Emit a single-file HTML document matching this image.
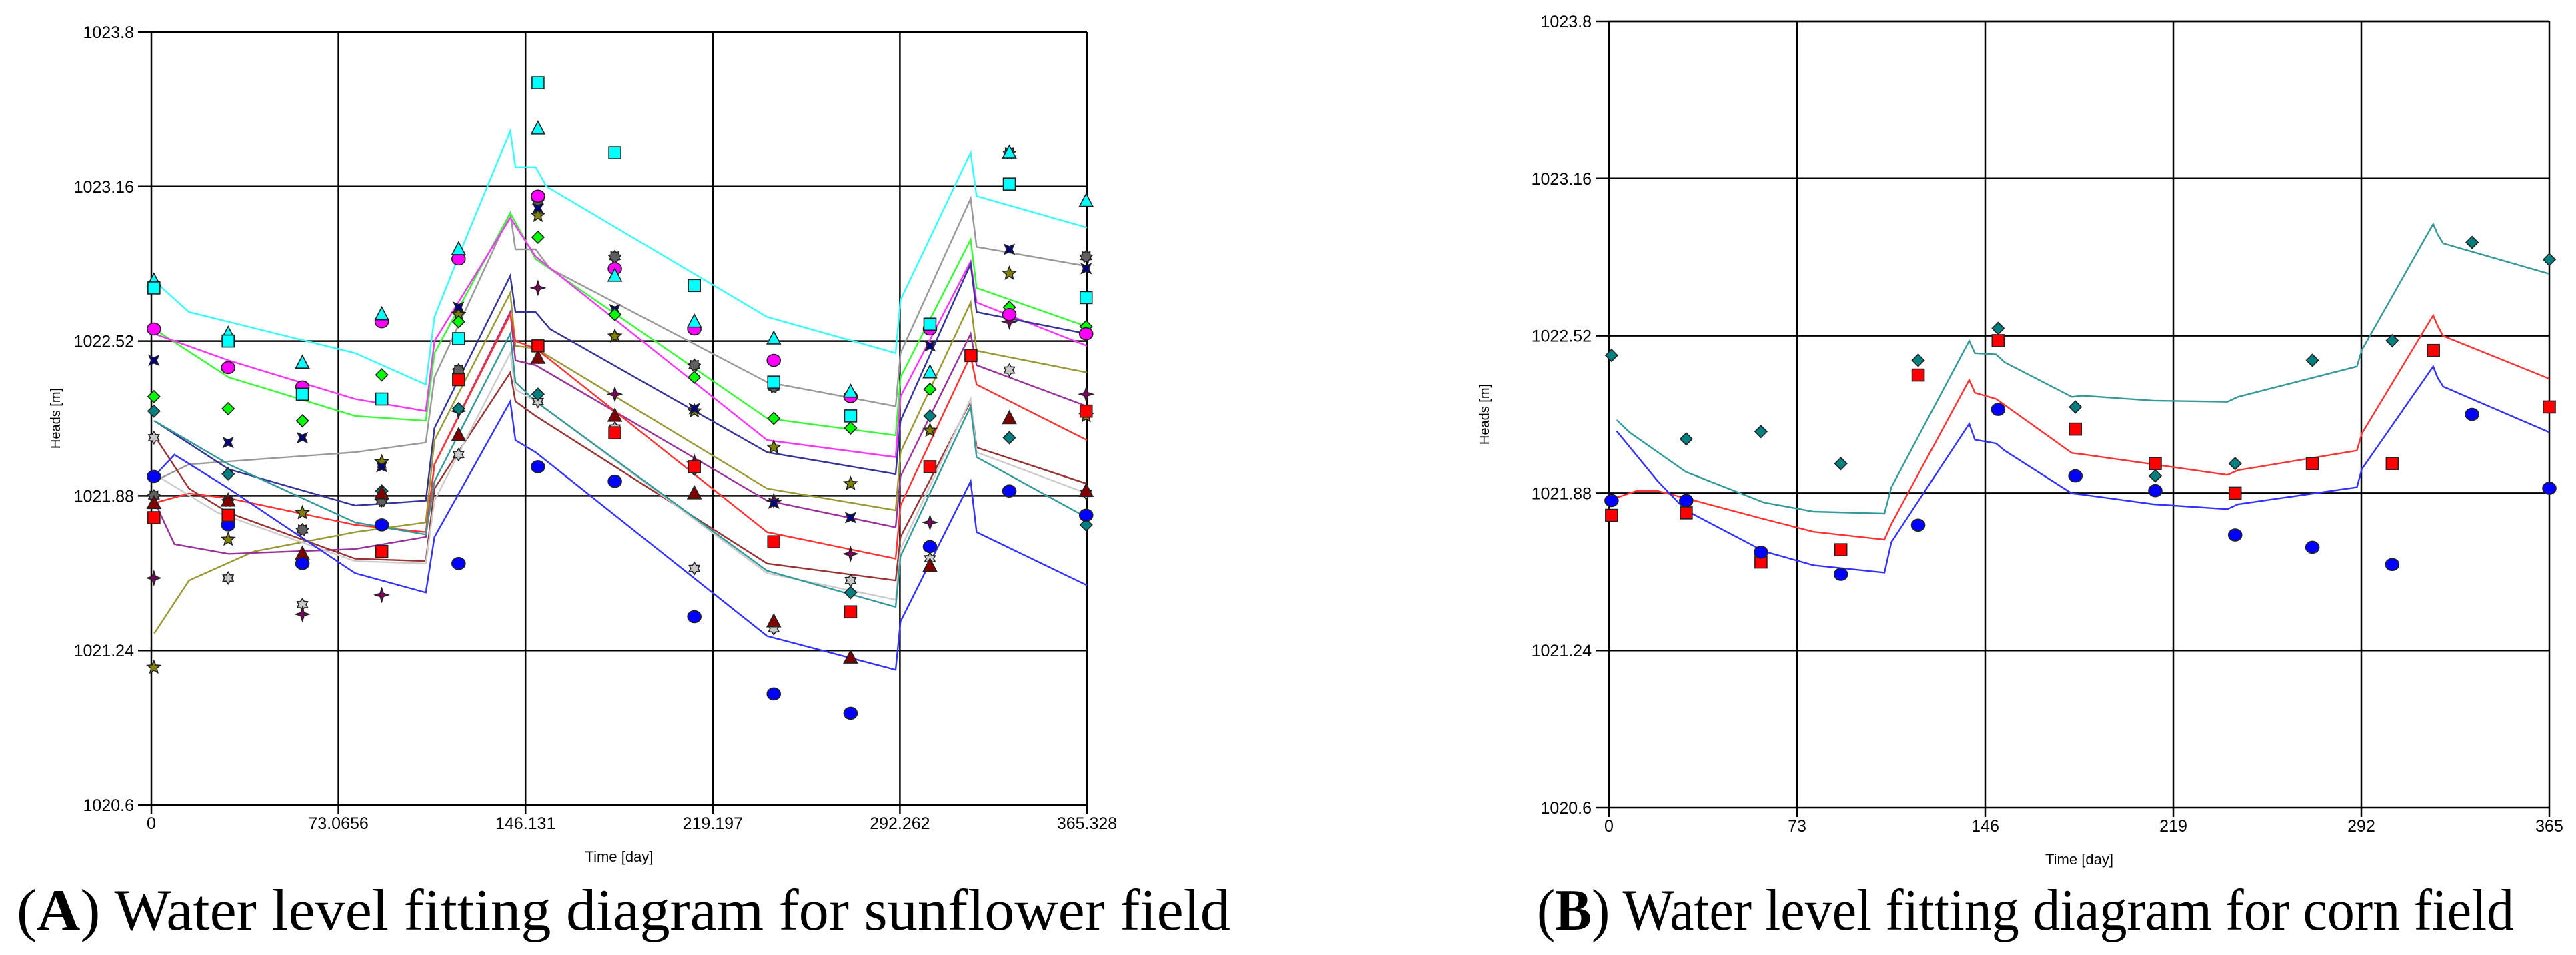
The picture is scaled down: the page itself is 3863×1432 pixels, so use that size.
<!DOCTYPE html>
<html><head><meta charset="utf-8"><style>
html,body{margin:0;padding:0;background:#fff;}
svg{display:block;}
text{font-family:"Liberation Sans",sans-serif;}
</style></head><body>
<svg id="svg" width="3863" height="1432" viewBox="0 0 3863 1432">
<g id="chartA"></g>
<g id="chartB"></g>
<text x="25" y="1394" font-size="88" textLength="1820" lengthAdjust="spacingAndGlyphs" style="font-family:'Liberation Serif',serif">(<tspan font-weight="bold">A</tspan>) Water level fitting diagram for sunflower field</text>
<text x="2305" y="1394" font-size="88" textLength="1465" lengthAdjust="spacingAndGlyphs" style="font-family:'Liberation Serif',serif">(<tspan font-weight="bold">B</tspan>) Water level fitting diagram for corn field</text>
</svg>
<script>
const NS="http://www.w3.org/2000/svg";
// ---------- Chart A data ----------
const aXTicks=[0,73.0656,146.131,219.197,292.262,365.328];
const aXTickLabels=["0","73.0656","146.131","219.197","292.262","365.328"];
const yTicks=[1020.6,1021.24,1021.88,1022.52,1023.16,1023.8];
const yTickLabels=["1020.6","1021.24","1021.88","1022.52","1023.16","1023.8"];
const obsDays=[1,30,59,90,120,151,181,212,243,273,304,335,365];
const redObsDays=[1,30,59,90,120,151,181,212,243,273,304,320,365];
const aCyanSq=[1022.74,1022.52,1022.30,1022.28,1022.53,1023.59,1023.30,1022.75,1022.35,1022.21,1022.59,1023.17,1022.70];
const aCyanTri=[1022.77,1022.55,1022.43,1022.63,1022.90,1023.40,1022.79,1022.60,1022.53,1022.31,1022.39,1023.30,1023.10];
const aMagCirc=[1022.57,1022.41,1022.33,1022.60,1022.86,1023.12,1022.82,1022.57,1022.44,1022.29,1022.57,1022.63,1022.55];
const aGreenDia=[1022.29,1022.24,1022.19,1022.38,1022.60,1022.95,1022.63,1022.37,1022.20,1022.16,1022.32,1022.66,1022.58];
const aNavyX=[1022.44,1022.10,1022.12,1022.00,1022.66,1023.07,1022.65,1022.24,1021.85,1021.79,1022.50,1022.90,1022.82];
const aGrayGear=[1021.88,1021.86,1021.74,1021.86,1022.40,1023.10,1022.87,1022.42,1022.33,1022.29,null,1023.30,1022.87];
const aOliveStar=[1021.17,1021.70,1021.81,1022.02,1022.63,1023.04,1022.54,1022.23,1022.08,1021.93,1022.15,1022.80,1022.21];
const aTealDia=[1022.23,1021.97,null,1021.90,1022.24,1022.30,null,1021.99,1021.69,1021.48,1022.21,1022.12,1021.76];
const aLGrayStar=[1022.12,1021.54,1021.43,1021.86,1022.05,1022.27,1022.16,1021.58,1021.33,1021.53,1021.62,1022.40,1021.89];
const aRedSq=[1021.79,1021.80,null,1021.65,1022.36,1022.50,1022.14,1022.00,1021.69,1021.40,1022.00,1022.46,1022.23];
const aDRedTri=[1021.85,1021.86,1021.64,1021.89,1022.13,1022.45,1022.21,1021.89,1021.36,1021.21,1021.59,1022.20,1021.90];
const aPurple4=[1021.54,null,1021.39,1021.47,1022.23,1022.74,1022.30,1022.02,1021.86,1021.64,1021.77,1022.60,1022.30];
const aBlueCirc=[1021.96,1021.76,1021.60,1021.76,1021.60,1022.00,1021.94,1021.38,1021.06,1020.98,1021.67,1021.90,1021.80];
// simulated lines (day, head)
const cyanD=[1.1,14.7,79.6,107.2,110.6,121.9,140.2,142.2,150.1,154.3,240.4,290.6,292.5,319.9,322.2,365.3];
const cyanH=[1022.77,1022.64,1022.47,1022.34,1022.62,1022.92,1023.39,1023.24,1023.24,1023.16,1022.62,1022.47,1022.69,1023.30,1023.12,1022.99];
const grayD=[1.1,14.7,79.6,107.2,110.6,140.2,142.2,150.1,155.7,240.4,290.6,292.5,319.9,322.2,365.3];
const grayH=[1021.94,1022.01,1022.06,1022.10,1022.37,1023.05,1022.90,1022.90,1022.82,1022.35,1022.25,1022.47,1023.11,1022.91,1022.83];
const greenD=[1.1,30.2,79.6,107.2,110.6,140.2,150.1,240.4,290.6,292.5,319.9,322.2,365.3];
const greenH=[1022.57,1022.37,1022.21,1022.19,1022.47,1023.05,1022.86,1022.20,1022.13,1022.37,1022.94,1022.74,1022.58];
const magD=[1.1,30.2,79.6,107.2,110.6,140.2,150.1,240.4,290.6,292.5,319.9,322.2,365.3];
const magH=[1022.55,1022.44,1022.28,1022.23,1022.52,1023.03,1022.87,1022.11,1022.04,1022.29,1022.85,1022.68,1022.50];
const navyD=[1.1,30.2,79.6,107.2,110.6,140.2,142.2,150.1,155.7,240.4,290.6,292.5,319.9,322.2,365.3];
const navyH=[1022.19,1021.99,1021.84,1021.86,1022.16,1022.79,1022.64,1022.64,1022.57,1022.06,1021.97,1022.19,1022.84,1022.64,1022.55];
const oliveD=[1.1,14.7,40.1,79.6,107.2,110.6,140.2,142.2,150.1,240.4,290.6,292.5,319.9,322.2,365.3];
const oliveH=[1021.31,1021.53,1021.65,1021.73,1021.77,1022.11,1022.72,1022.50,1022.49,1021.91,1021.82,1022.06,1022.68,1022.48,1022.39];
const purpleD=[1.1,9.0,30.2,79.6,107.2,110.6,140.2,142.2,150.1,240.4,290.6,292.5,319.9,322.2,365.3];
const purpleH=[1021.86,1021.68,1021.64,1021.66,1021.71,1022.01,1022.64,1022.44,1022.42,1021.86,1021.75,1021.96,1022.55,1022.42,1022.25];
const redD=[1.1,14.7,30.2,79.6,107.2,110.6,140.2,142.2,150.1,240.4,290.6,292.5,319.9,322.2,365.3];
const redH=[1021.85,1021.89,1021.87,1021.76,1021.73,1022.01,1022.63,1022.52,1022.49,1021.73,1021.62,1021.84,1022.46,1022.34,1022.11];
const dredD=[1.1,14.7,30.2,79.6,107.2,110.6,140.2,142.2,150.1,240.4,290.6,292.5,319.9,322.2,365.3];
const dredH=[1022.13,1021.91,1021.81,1021.62,1021.61,1021.91,1022.39,1022.27,1022.21,1021.60,1021.53,1021.71,1022.27,1022.08,1021.93];
const lgrayD=[1.1,26.0,79.6,107.2,110.6,140.2,142.2,150.1,240.4,290.6,292.5,319.9,322.2,365.3];
const lgrayH=[1021.97,1021.81,1021.61,1021.60,1021.86,1022.47,1022.32,1022.27,1021.56,1021.45,1021.66,1022.28,1022.06,1021.89];
const tealD=[1.1,30.2,79.6,107.2,110.6,140.2,142.2,150.1,240.4,290.6,292.5,319.9,322.2,365.3];
const tealH=[1022.19,1022.01,1021.77,1021.72,1021.94,1022.55,1022.35,1022.27,1021.57,1021.42,1021.63,1022.25,1022.04,1021.79];
const blueD=[1.1,9.0,30.2,79.6,107.2,110.6,140.2,142.2,150.1,240.4,290.6,292.5,319.9,322.2,365.3];
const blueH=[1021.96,1022.05,1021.91,1021.56,1021.48,1021.71,1022.27,1022.11,1022.06,1021.30,1021.16,1021.36,1021.94,1021.73,1021.51];
// ---------- Chart B data ----------
const bXTicks=[0,73,146,219,292,365];
const bXTickLabels=["0","73","146","219","292","365"];
const bObsDays=[1,30,59,90,120,151,181,212,243,273,304,335,365];
const bRedDays=[1,30,59,90,120,151,181,212,243,273,304,320,365];
const bTealDia=[1022.44,1022.10,1022.13,1022.00,1022.42,1022.55,1022.23,1021.95,1022.00,1022.42,1022.50,1022.90,1022.83];
const bRedSq=[1021.79,1021.80,1021.60,1021.65,1022.36,1022.50,1022.14,1022.00,1021.88,1022.00,1022.00,1022.46,1022.23];
const bBlueCirc=[1021.85,1021.85,1021.64,1021.55,1021.75,1022.22,1021.95,1021.89,1021.71,1021.66,1021.59,1022.20,1021.90];
const bTealD=[3.0,8.0,29.9,60.1,79.4,106.9,109.6,139.8,142.0,150.2,153.5,179.6,183.7,211.2,240.0,244.1,290.3,292.2,319.9,321.6,323.8,365];
const bTealH=[1022.177,1022.127,1021.966,1021.842,1021.805,1021.797,1021.904,1022.499,1022.449,1022.444,1022.412,1022.271,1022.276,1022.256,1022.251,1022.271,1022.395,1022.462,1022.975,1022.933,1022.896,1022.772];
const bRedD=[0.8,10.7,18.9,29.9,60.1,79.4,106.9,109.6,139.8,142.0,150.2,179.6,183.7,240.0,244.1,290.3,292.2,319.9,321.6,323.8,365];
const bRedH=[1021.854,1021.889,1021.889,1021.859,1021.775,1021.723,1021.691,1021.755,1022.340,1022.288,1022.263,1022.043,1022.038,1021.954,1021.973,1022.053,1022.122,1022.603,1022.561,1022.519,1022.345];
const bBlueD=[3.0,18.9,29.9,60.1,79.4,106.9,109.6,139.8,142.0,150.2,153.5,179.6,183.7,211.2,240.0,244.1,290.3,292.2,319.9,321.6,323.8,365];
const bBlueH=[1022.132,1021.929,1021.810,1021.644,1021.587,1021.557,1021.681,1022.162,1022.097,1022.082,1022.053,1021.879,1021.874,1021.835,1021.815,1021.835,1021.904,1021.978,1022.395,1022.350,1022.313,1022.127];

function el(tag,attrs,parent){const e=document.createElementNS(NS,tag);for(const k in attrs)e.setAttribute(k,attrs[k]);parent.appendChild(e);return e;}

function makeChart(g,L,R,T,B,xMax,xTicks,xLabels,yMin,yMax,yTitleX){
  const sx=d=>L+(d/xMax)*(R-L);
  const sy=v=>B-(v-yMin)/(yMax-yMin)*(B-T);
  yTicks.forEach((v,i)=>{
    const y=sy(v);
    const ln=el('line',{x1:L-20,x2:R,y1:y,y2:y,stroke:'#000','stroke-width':2.5},g);
    
    
    const t=el('text',{x:L-26,y:y+9,'font-size':25,'text-anchor':'end',fill:'#000'},g);
    t.textContent=yTickLabels[i];
    
    
  });
  xTicks.forEach((v,i)=>{
    const x=sx(v);
    const ln=el('line',{x1:x,x2:x,y1:T,y2:B+14,stroke:'#000','stroke-width':2.5},g);
    
    
    const t=el('text',{x:x,y:B+36,'font-size':25,'text-anchor':'middle',fill:'#000'},g);
    t.textContent=xLabels[i];
    
    
  });
  const xt=el('text',{x:(L+R)/2,y:B+85,'font-size':22,'text-anchor':'middle'},g);
  xt.textContent='Time [day]';
  
  
  const yx=yTitleX, yy=(T+B)/2;
  const yt=el('text',{x:yx,y:yy,'font-size':20,'text-anchor':'middle',transform:`rotate(-90 ${yx} ${yy})`},g);
  yt.textContent='Heads [m]';
  
  
  return {sx,sy};
}

function line(g,ax,days,heads,color,name){
  const pts=days.map((d,i)=>ax.sx(d).toFixed(1)+','+ax.sy(heads[i]).toFixed(1)).join(' ');
  const p=el('polyline',{points:pts,fill:'none',stroke:color,'stroke-width':2.4},g);
  
  
}

function starPts(cx,cy,n,ro,ri){let s=[];for(let i=0;i<2*n;i++){const r=i%2?ri:ro;const a=-Math.PI/2+i*Math.PI/n;s.push((cx+r*Math.cos(a)).toFixed(1)+','+(cy+r*Math.sin(a)).toFixed(1));}return s.join(' ');}

function marker(g,x,y,shape,fill){
  const s=9;let e;const st={stroke:'#222','stroke-width':1.6,fill:fill};
  if(shape==='sq')e=el('rect',Object.assign({x:x-s,y:y-s,width:2*s,height:2*s},st),g);
  else if(shape==='circ')e=el('ellipse',Object.assign({cx:x,cy:y,rx:s+1,ry:s},st),g);
  else if(shape==='tri')e=el('polygon',Object.assign({points:`${x},${y-s-2} ${x+s+1},${y+s-1} ${x-s-1},${y+s-1}`},st),g);
  else if(shape==='dia')e=el('polygon',Object.assign({points:`${x},${y-s} ${x+s},${y} ${x},${y+s} ${x-s},${y}`},st),g);
  else if(shape==='x')e=el('polygon',Object.assign({points:starPts(x,y,4,s+1,4).split(' ').map((p,i)=>{const [px,py]=p.split(',').map(Number);const a=Math.PI/4,dx=px-x,dy=py-y;return (x+dx*Math.cos(a)-dy*Math.sin(a)).toFixed(1)+','+(y+dx*Math.sin(a)+dy*Math.cos(a)).toFixed(1);}).join(' ')},st),g);
  else if(shape==='star5')e=el('polygon',Object.assign({points:starPts(x,y,5,s+1,4.5)},st),g);
  else if(shape==='star6')e=el('polygon',Object.assign({points:starPts(x,y,6,s,5.5)},st),g);
  else if(shape==='star4')e=el('polygon',Object.assign({points:starPts(x,y,4,s+1,3.5)},st),g);
  else if(shape==='gear')e=el('polygon',Object.assign({points:starPts(x,y,9,s,6.5)},st),g);
  return e;
}

function series(g,ax,days,vals,shape,fill,name){
  vals.forEach((v,i)=>{
    if(v===null)return;
    const m=marker(g,ax.sx(days[i]),ax.sy(v),shape,fill);
    
    
  });
}

// Chart A
const gA=document.getElementById('chartA');
const axA=makeChart(gA,227,1630,48,1207,365.328,aXTicks,aXTickLabels,1020.6,1023.8,90);
el('line',{x1:227,x2:1630,y1:48,y2:48,stroke:'#000','stroke-width':2.5},gA);
line(gA,axA,cyanD,cyanH,'#33ffff','line-cyan');
line(gA,axA,grayD,grayH,'#999999','line-gray');
line(gA,axA,greenD,greenH,'#33ff33','line-green');
line(gA,axA,magD,magH,'#ff33ff','line-magenta');
line(gA,axA,navyD,navyH,'#333399','line-navy');
line(gA,axA,oliveD,oliveH,'#999933','line-olive');
line(gA,axA,purpleD,purpleH,'#993399','line-purple');
line(gA,axA,redD,redH,'#ff3333','line-red');
line(gA,axA,dredD,dredH,'#993333','line-darkred');
line(gA,axA,lgrayD,lgrayH,'#cccccc','line-lightgray');
line(gA,axA,tealD,tealH,'#339999','line-teal');
line(gA,axA,blueD,blueH,'#3333ff','line-blue');
series(gA,axA,obsDays,aLGrayStar,'star6','#c8c8c8','obs-lightgray-star');
series(gA,axA,obsDays,aGrayGear,'gear','#606060','obs-gray-gear');
series(gA,axA,obsDays,aPurple4,'star4','#800060','obs-purple-star');
series(gA,axA,obsDays,aOliveStar,'star5','#808000','obs-olive-star');
series(gA,axA,obsDays,aTealDia,'dia','#008080','obs-teal-diamond');
series(gA,axA,obsDays,aNavyX,'x','#000080','obs-navy-x');
series(gA,axA,obsDays,aDRedTri,'tri','#800000','obs-darkred-triangle');
series(gA,axA,obsDays,aGreenDia,'dia','#00ff00','obs-green-diamond');
series(gA,axA,obsDays,aMagCirc,'circ','#ff00ff','obs-magenta-circle');
series(gA,axA,obsDays,aBlueCirc,'circ','#0000ff','obs-blue-circle');
series(gA,axA,redObsDays,aRedSq,'sq','#ff0000','obs-red-square');
series(gA,axA,obsDays,aCyanTri,'tri','#00ffff','obs-cyan-triangle');
series(gA,axA,obsDays,aCyanSq,'sq','#00ffff','obs-cyan-square');

// Chart B
const gB=document.getElementById('chartB');
const axB=makeChart(gB,2413,3823,32,1211,365,bXTicks,bXTickLabels,1020.6,1023.8,2233);
el('line',{x1:2413,x2:3823,y1:32,y2:32,stroke:'#000','stroke-width':2.5},gB);
line(gB,axB,bTealD,bTealH,'#339999','line-teal');
line(gB,axB,bRedD,bRedH,'#ff3333','line-red');
line(gB,axB,bBlueD,bBlueH,'#3333ff','line-blue');
series(gB,axB,bObsDays,bTealDia,'dia','#008080','obs-teal-diamond');
series(gB,axB,bRedDays,bRedSq,'sq','#ff0000','obs-red-square');
series(gB,axB,bObsDays,bBlueCirc,'circ','#0000ff','obs-blue-circle');
</script>
</body></html>
